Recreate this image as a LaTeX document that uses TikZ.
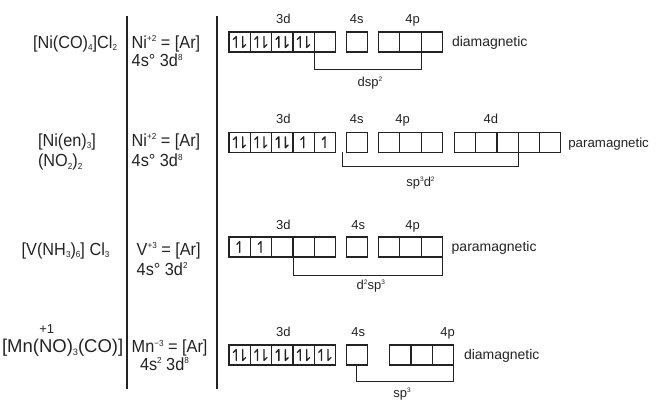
\documentclass[tikz,border=0pt]{standalone}
\usepackage{fontspec}
\setmainfont{Liberation Sans}
\newfontfamily\fml[FakeStretch=0.93]{Liberation Sans}
\usepackage{graphicx}
\definecolor{ink}{RGB}{35,35,35}
\newcommand\lo[1]{\raisebox{-0.15em}{\scalebox{0.5}{#1}}}
\newcommand\hi[1]{\raisebox{0.38em}{\scalebox{0.5}{#1}}}
\tikzset{
  txt/.style={inner sep=0pt, outer sep=0pt, text=ink},
  fm/.style={txt, font=\fml\fontsize{17.5}{18}\selectfont, anchor=base west},
  fmw/.style={txt, font=\fontsize{18.5}{19}\selectfont, anchor=base west},
  lab/.style={txt, font=\fontsize{13}{14}\selectfont, anchor=base},
  mag/.style={txt, font=\fontsize{14}{15}\selectfont, anchor=base west},
  orb/.style={draw=ink, line width=1.1pt, minimum width=21.4pt, minimum height=20pt, inner sep=0pt, outer sep=0pt},
  brk/.style={draw=ink, line width=0.9pt},
  bar/.style={draw=ink, line width=1.9pt},
  el/.style={draw=ink, line width=1.3pt, line cap=round, line join=round},
  pair/.pic={\draw[el] (-3.5,5.5) -- (-3.5,-5.5) -- (-6.3,-2.7);
             \draw[el] (3,-5.5) -- (3,5.5) -- (5.8,2.7);},
  one/.pic={\draw[el] (0,5.5) -- (0,-5.5) -- (-2.8,-2.7);}
}
\begin{document}
\begin{tikzpicture}[x=1pt,y=-1pt]
\useasboundingbox (0,0) rectangle (658,400);
% vertical bars
\coordinate (t1) at (127.3,15.7); \coordinate (u1) at (127.3,389.3);
\coordinate (t2) at (217.3,15.7); \coordinate (u2) at (217.3,389.3);
\draw[bar] (t1) -- (u1);
\draw[bar] (t2) -- (u2);

% ---------- Row 1 ----------
\node[fm] (f1) at (33,48.3) {[Ni(CO)\lo{4}]Cl\lo{2}};
\node[fm] (e1) at (131.7,48.3) {Ni\hi{+2} = [Ar]};
\node[fm] (g1) at (131.7,66.7) {4s° 3d\hi{8}};
\foreach \i in {1,...,5} \node[orb] (a\i) at ({229+21.34*(\i-0.5)},42) {};
\node[orb] (as) at (356.85,42) {};
\foreach \i in {1,2,3} \node[orb] (ap\i) at ({378+21.57*(\i-0.5)},42) {};
\foreach \i in {1,...,4} \pic at (a\i) {pair};
\node[lab] (la1) at (283.3,23.3) {3d};
\node[lab] (la2) at (356.7,23.3) {4s};
\node[lab] (la3) at (412.5,23.3) {4p};
\draw[brk] (a5.south west) -- ++(0,17.3) -| (ap3.south west);
\node[lab] (ha) at (370,86) {dsp\hi{2}};
\node[mag] (ma) at (452,46.7) {diamagnetic};

% ---------- Row 2 ----------
\node[fm] (f2) at (38,146) {[Ni(en)\lo{3}]};
\node[fm] (f2b) at (38,166.7) {(NO\lo{2})\lo{2}};
\node[fm] (e2) at (131.7,146) {Ni\hi{+2} = [Ar]};
\node[fm] (g2) at (131.7,166.7) {4s° 3d\hi{8}};
\foreach \i in {1,...,5} \node[orb] (b\i) at ({229+21.34*(\i-0.5)},142.3) {};
\node[orb] (bs) at (356.85,142.3) {};
\foreach \i in {1,2,3} \node[orb] (bp\i) at ({378+21.57*(\i-0.5)},142.3) {};
\foreach \i in {1,...,5} \node[orb] (bd\i) at ({454.3+21.3*(\i-0.5)},142.3) {};
\foreach \i in {1,2,3} \pic at (b\i) {pair};
\foreach \i in {4,5} \pic at (b\i) {one};
\node[lab] (lb1) at (283.3,123.3) {3d};
\node[lab] (lb2) at (356.7,123.3) {4s};
\node[lab] (lb3) at (402.5,123.3) {4p};
\node[lab] (lb4) at (490.8,123.3) {4d};
\draw[brk] ([xshift=-3.3pt]bs.south west) -- ++(0,14.4) -| (bd4.south west);
\node[lab] (hb) at (420.5,186) {sp\hi{3}d\hi{2}};
\node[mag, font=\fontsize{13.3}{14}\selectfont] (mb) at (568.3,147) {paramagnetic};

% ---------- Row 3 ----------
\node[fm] (f3) at (21.7,255) {[V(NH\lo{3})\lo{6}] Cl\lo{3}};
\node[fm] (e3) at (136.7,255) {V\hi{+3} = [Ar]};
\node[fm] (g3) at (136.7,275) {4s° 3d\hi{2}};
\foreach \i in {1,...,5} \node[orb] (c\i) at ({229+21.34*(\i-0.5)},247) {};
\node[orb] (cs) at (356.85,247) {};
\foreach \i in {1,2,3} \node[orb] (cp\i) at ({378+21.57*(\i-0.5)},247) {};
\foreach \i in {1,2} \pic at (c\i) {one};
\node[lab] (lc1) at (283.3,229.3) {3d};
\node[lab] (lc2) at (358.3,229.3) {4s};
\node[lab] (lc3) at (412.5,229.3) {4p};
\draw[brk] (c4.south west) -- ++(0,18.3) -| (cp3.south east);
\node[lab] (hc) at (370.8,289) {d\hi{2}sp\hi{3}};
\node[mag] (mc) at (451.7,251.5) {paramagnetic};

% ---------- Row 4 ----------
\node[fmw] (m1) at (2,352.7) {[Mn(};
\node[fmw] (m2) at (m1.base east) {N};
\node[fmw] (m3) at (m2.base east) {O)\lo{3}(CO)]};
\node[txt, font=\fontsize{13}{13}\selectfont, anchor=south] (ox) at ([xshift=1pt,yshift=6pt]m2.north) {+1};
\node[fm] (e4) at (131.7,352.7) {Mn\hi{−3} = [Ar]};
\node[fm] (g4) at (140,370) {4s\hi{2} 3d\hi{8}};
\foreach \i in {1,...,5} \node[orb] (d\i) at ({229+21.34*(\i-0.5)},355) {};
\node[orb] (ds) at (356.85,355) {};
\foreach \i in {1,2,3} \node[orb] (dp\i) at ({389.3+21.57*(\i-0.5)},355) {};
\foreach \i in {1,...,5} \pic at (d\i) {pair};
\node[lab] (ld1) at (283.3,336.7) {3d};
\node[lab] (ld2) at (358.3,336.7) {4s};
\node[lab] (ld3) at (447.5,336.7) {4p};
\draw[brk] (ds.south) -- ++(0,16.7) -| (dp3.south east);
\node[lab] (hd) at (402,397) {sp\hi{3}};
\node[mag] (md) at (464,359.5) {diamagnetic};
\end{tikzpicture}
\end{document}
